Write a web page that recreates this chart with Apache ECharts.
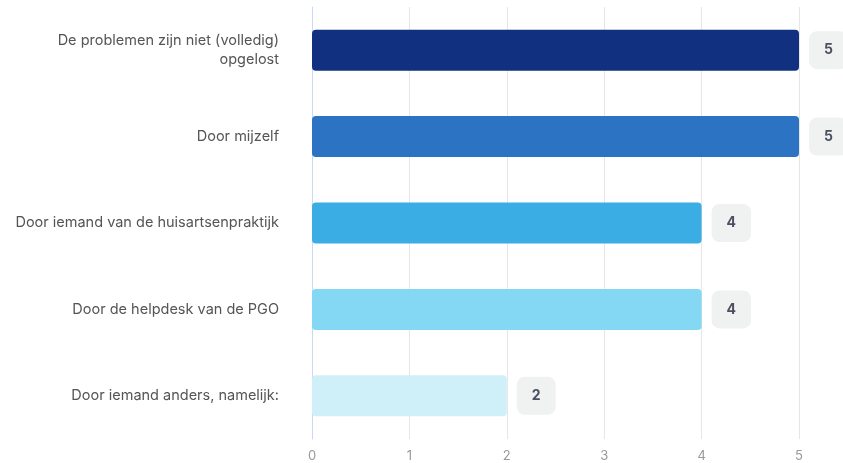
<!DOCTYPE html>
<html>
<head>
<meta charset="utf-8">
<script src="https://cdn.jsdelivr.net/npm/echarts@6/dist/echarts.min.js"></script>
<style>
  html, body { margin: 0; padding: 0; background: #fff; }
  #chart { width: 843px; height: 463px; }
</style>
</head>
<body>
<div id="chart"></div>
<script>
let categories = [
  'De problemen zijn niet (volledig) opgelost',
  'Door mijzelf',
  'Door iemand van de huisartsenpraktijk',
  'Door de helpdesk van de PGO',
  'Door iemand anders, namelijk:'
];
let values = [5, 5, 4, 4, 2];
let barColors = ['#11307f', '#2c73c3', '#3badE5', '#84d8f4', '#cff0f9'];
let xTicks = [0, 1, 2, 3, 4, 5];

// wrap long labels on word boundaries
function wrapLabel(text) {
  let maxChars = 38;
  let words = text.split(' ');
  let lines = [];
  let line = '';
  words.forEach(w => {
    if (line && (line + ' ' + w).length > maxChars) {
      lines.push(line);
      line = w;
    } else {
      line = line ? line + ' ' + w : w;
    }
  });
  lines.push(line);
  return lines.join('\n');
}

let myChart = echarts.init(document.getElementById('chart'));

let option = {
  animation: false,
  textStyle: { fontFamily: 'Inter' },
  grid: {
    left: 312,
    right: 44,
    top: 7,
    bottom: 23
  },
  xAxis: {
    type: 'value',
    min: xTicks[0],
    max: xTicks[xTicks.length - 1],
    interval: 1,
    axisLine: { show: false },
    axisTick: { show: false },
    axisLabel: { color: '#999', fontSize: 13, margin: 11 },
    splitLine: { lineStyle: { color: '#e6e6e6', width: 1 } }
  },
  yAxis: {
    type: 'category',
    inverse: true,
    data: categories,
    axisLine: { show: true, lineStyle: { color: '#c9d8f5' } },
    axisTick: { show: false },
    axisLabel: {
      color: '#555',
      fontSize: 14.5,
      margin: 33,
      lineHeight: 19,
      formatter: wrapLabel
    }
  },
  series: [
    {
      type: 'bar',
      barWidth: 41,
      data: values.map((v, i) => ({
        value: v,
        itemStyle: { color: barColors[i], borderRadius: 4 }
      })),
      label: {
        show: true,
        position: 'right',
        distance: 10,
        backgroundColor: '#f0f1f1',
        borderRadius: 8,
        padding: [12, 15],
        color: '#4a5060',
        fontWeight: 'bold',
        fontSize: 14
      }
    }
  ]
};

myChart.setOption(option);
</script>
</body>
</html>
